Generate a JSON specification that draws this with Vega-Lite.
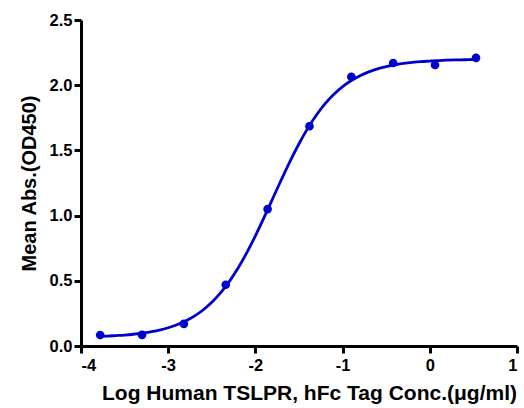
{
  "$schema": "https://vega.github.io/schema/vega-lite/v6.json",
  "width": 436,
  "height": 326,
  "autosize": {"type": "none"},
  "padding": {"left": 81, "top": 20, "right": 7, "bottom": 62},
  "background": "white",
  "config": {
    "view": {"stroke": null},
    "font": "Liberation Sans",
    "axis": {
      "domainColor": "black",
      "domainWidth": 3,
      "tickColor": "black",
      "tickWidth": 3,
      "tickSize": 7,
      "labelFont": "Liberation Sans",
      "labelFontWeight": "bold",
      "labelFontSize": 16.5,
      "labelColor": "black",
      "titleFont": "Liberation Sans",
      "titleFontWeight": "bold",
      "titleFontSize": 20,
      "titleColor": "black",
      "grid": false
    }
  },
  "datasets": {
    "points": [
      {"x": -3.78, "y": 0.084},
      {"x": -3.30, "y": 0.085},
      {"x": -2.82, "y": 0.17},
      {"x": -2.34, "y": 0.47},
      {"x": -1.86, "y": 1.05},
      {"x": -1.38, "y": 1.685},
      {"x": -0.90, "y": 2.065},
      {"x": -0.42, "y": 2.17},
      {"x": 0.06, "y": 2.155},
      {"x": 0.53, "y": 2.21}
    ],
    "curve": [
      {"x": -3.78, "y": 0.074},
      {"x": -3.7, "y": 0.076},
      {"x": -3.6, "y": 0.080},
      {"x": -3.5, "y": 0.084},
      {"x": -3.4, "y": 0.090},
      {"x": -3.3, "y": 0.098},
      {"x": -3.2, "y": 0.109},
      {"x": -3.1, "y": 0.122},
      {"x": -3.0, "y": 0.140},
      {"x": -2.9, "y": 0.163},
      {"x": -2.8, "y": 0.192},
      {"x": -2.7, "y": 0.229},
      {"x": -2.6, "y": 0.276},
      {"x": -2.5, "y": 0.335},
      {"x": -2.4, "y": 0.407},
      {"x": -2.3, "y": 0.494},
      {"x": -2.2, "y": 0.596},
      {"x": -2.1, "y": 0.714},
      {"x": -2.0, "y": 0.845},
      {"x": -1.9, "y": 0.986},
      {"x": -1.8, "y": 1.133},
      {"x": -1.7, "y": 1.279},
      {"x": -1.6, "y": 1.420},
      {"x": -1.5, "y": 1.551},
      {"x": -1.4, "y": 1.669},
      {"x": -1.3, "y": 1.771},
      {"x": -1.2, "y": 1.858},
      {"x": -1.1, "y": 1.930},
      {"x": -1.0, "y": 1.989},
      {"x": -0.9, "y": 2.036},
      {"x": -0.8, "y": 2.073},
      {"x": -0.7, "y": 2.102},
      {"x": -0.6, "y": 2.125},
      {"x": -0.5, "y": 2.143},
      {"x": -0.4, "y": 2.156},
      {"x": -0.3, "y": 2.167},
      {"x": -0.2, "y": 2.175},
      {"x": -0.1, "y": 2.181},
      {"x": 0.0, "y": 2.185},
      {"x": 0.1, "y": 2.189},
      {"x": 0.2, "y": 2.192},
      {"x": 0.3, "y": 2.194},
      {"x": 0.4, "y": 2.195},
      {"x": 0.53, "y": 2.197}
    ]
  },
  "layer": [
    {
      "data": {"name": "curve"},
      "mark": {"type": "line", "color": "#0000CC", "strokeWidth": 2.8, "interpolate": "monotone"},
      "encoding": {
        "x": {
          "field": "x", "type": "quantitative",
          "scale": {"domain": [-4, 1], "nice": false, "zero": false},
          "axis": {"values": [-4, -3, -2, -1, 0, 1], "title": "Log Human TSLPR, hFc Tag Conc.(μg/ml)", "titleFontSize": 21, "labelPadding": 4, "titlePadding": 9, "labelExpr": "'' + datum.value", "titleX": 228}
        },
        "y": {
          "field": "y", "type": "quantitative",
          "scale": {"domain": [0, 2.5], "nice": false},
          "axis": {"values": [0, 0.5, 1, 1.5, 2, 2.5], "format": ".1f", "title": "Mean Abs.(OD450)", "labelPadding": 2, "titlePadding": 10}
        }
      }
    },
    {
      "data": {"name": "points"},
      "mark": {"type": "point", "filled": true, "color": "#0000CC", "size": 75, "opacity": 1},
      "encoding": {
        "x": {"field": "x", "type": "quantitative"},
        "y": {"field": "y", "type": "quantitative"}
      }
    }
  ]
}
